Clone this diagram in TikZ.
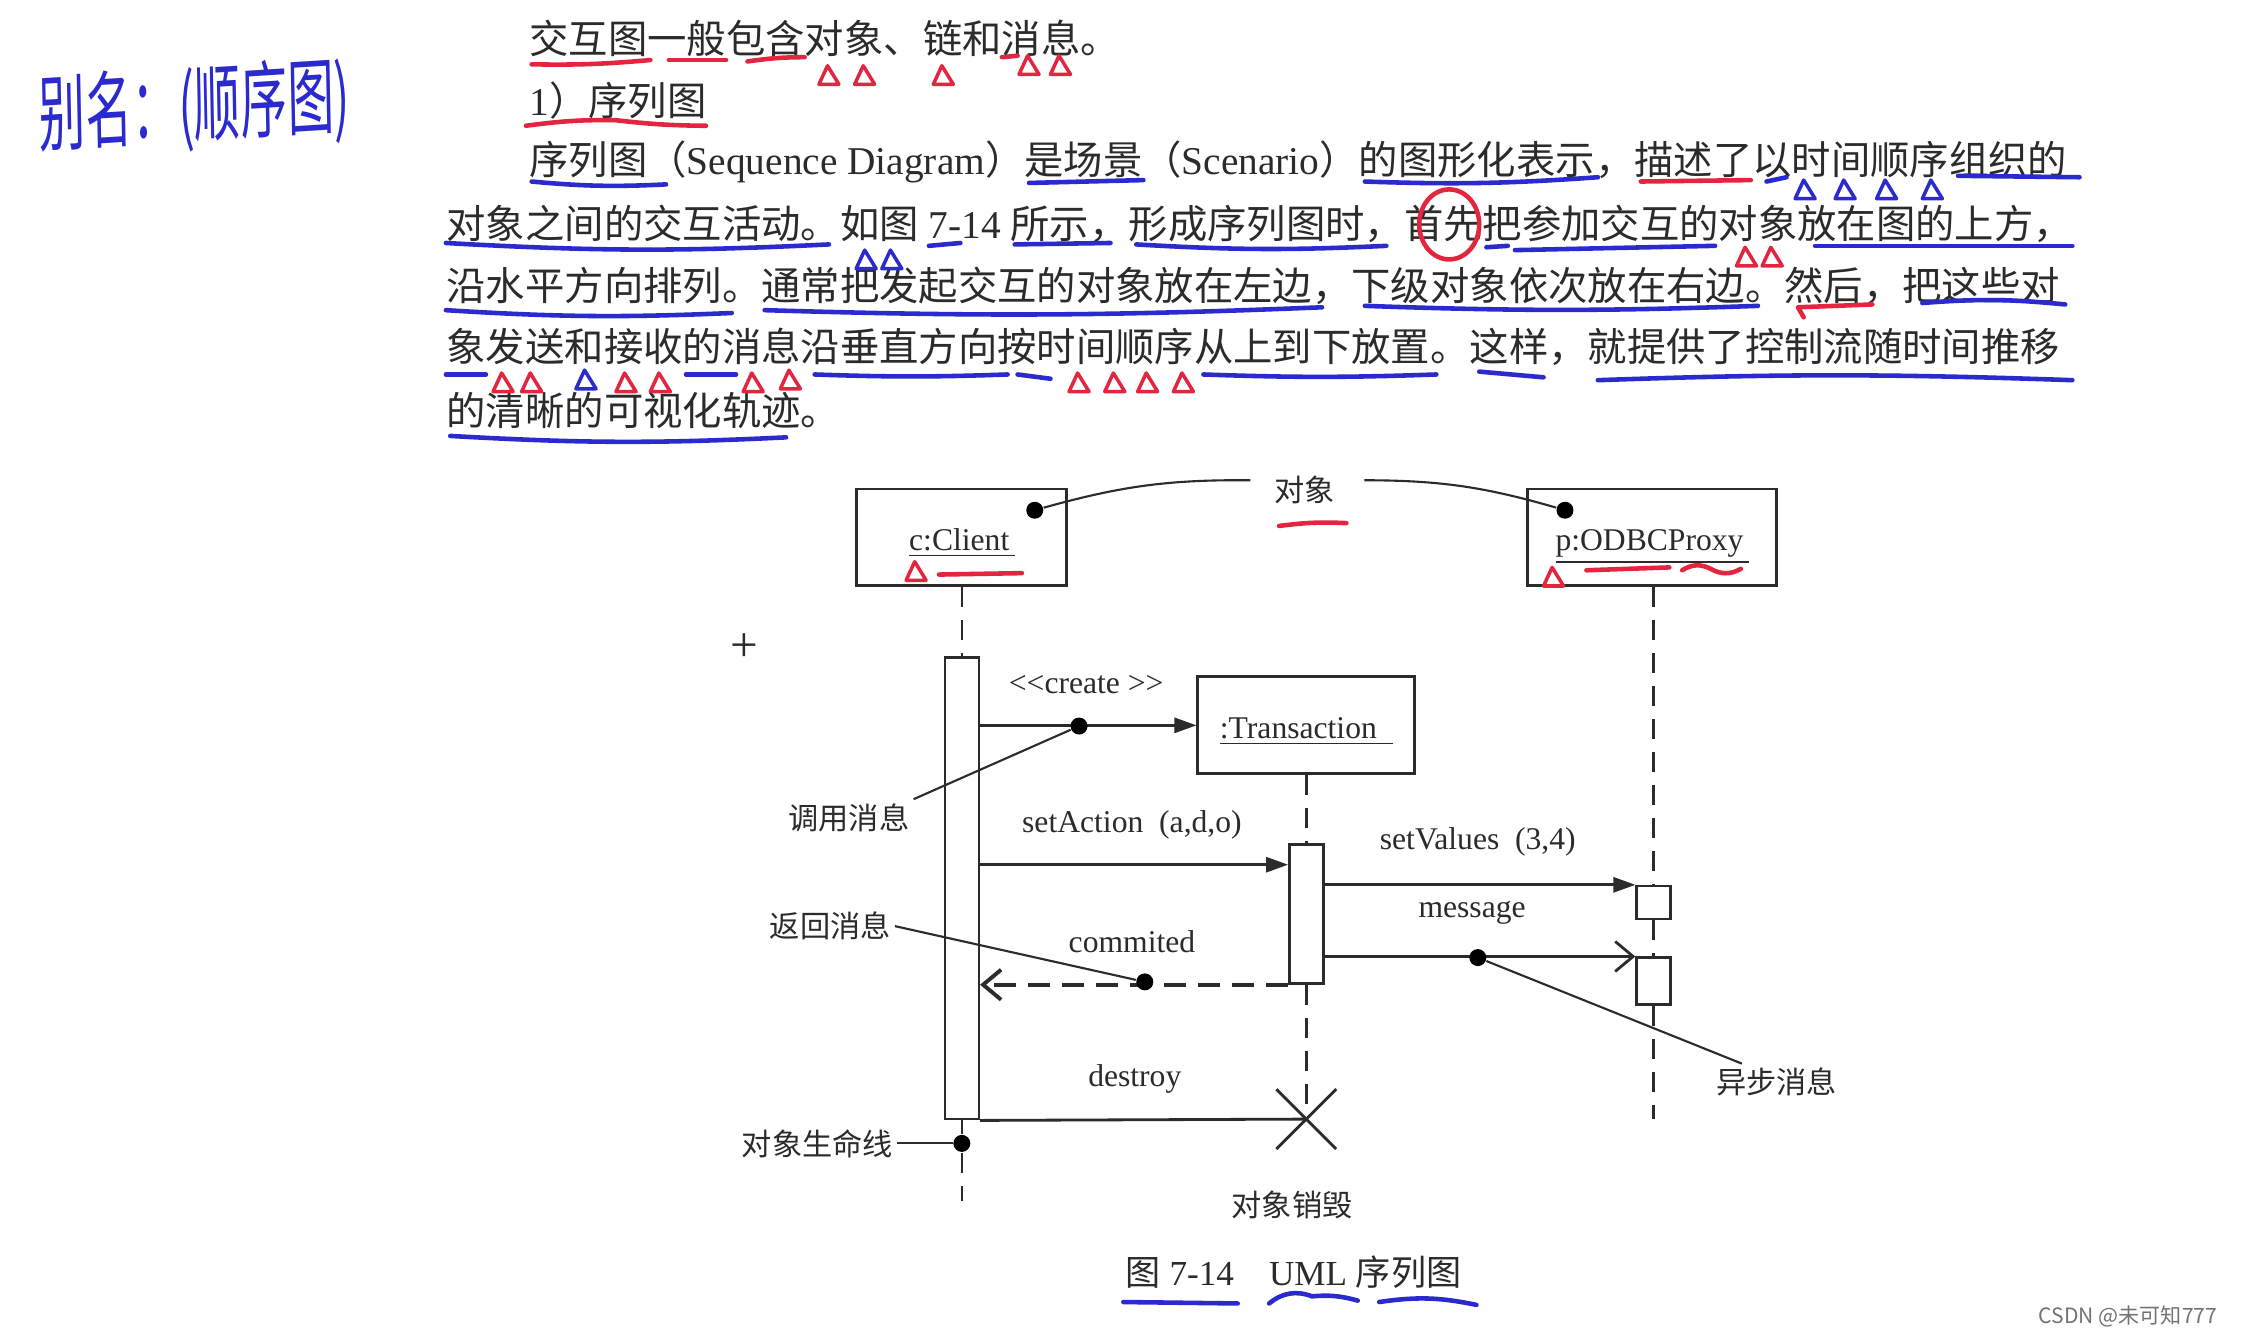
\documentclass[tikz,border=0pt]{standalone}
\usepackage{fontspec}
\setmainfont{Liberation Serif}
\newfontfamily\cjk{Noto Sans CJK SC}
\newcommand\zh[1]{{\cjk #1}}
\usepackage{xcolor}
\definecolor{inkblue}{HTML}{2A2ACF}
\definecolor{inkred}{HTML}{E3263F}
\definecolor{printgray}{HTML}{2B2B2B}
\usepackage{tikz}
\usetikzlibrary{positioning,arrows.meta,shapes.misc}
\newcommand\marktri[3]{\draw[#1, line width=1pt] (#2-7,#3+6) -- (#2-1,#3-7) -- (#2+7,#3+6) -- cycle;}

\begin{document}
\begin{tikzpicture}[
      x=0.01429cm, y=-0.01429cm,
      txt/.style={anchor=west, inner sep=0pt, text=printgray, font=\fontsize{11.2}{13}\selectfont},
      obj/.style={rectangle, draw=printgray, line width=0.8pt, minimum height=9.7mm, inner sep=1pt,
                  text height=3.2mm, text depth=0.6mm, text=printgray, font=\fontsize{9}{10}\selectfont},
      act/.style={rectangle, draw=printgray, line width=0.7pt, fill=white, minimum width=3.4mm, inner sep=0pt},
      dot/.style={circle, fill=black, inner sep=0pt, minimum size=1.7mm},
      lbl/.style={inner sep=1pt, text=printgray, font=\fontsize{9}{10}\selectfont},
      zlbl/.style={inner sep=1pt, text=printgray, font=\fontsize{8.6}{10}\cjk},
      life/.style={draw=printgray, line width=0.7pt, dash pattern=on 2mm off 1.3mm},
      call/.style={draw=printgray, line width=0.8pt, -{Triangle[length=2.2mm,width=1.5mm]}},
      async/.style={draw=printgray, line width=0.8pt, -{Straight Barb[length=1.8mm,width=3mm]}},
      reply/.style={draw=printgray, line width=1.1pt, dash pattern=on 2.2mm off 1.2mm,
                    -{Straight Barb[length=1.8mm,width=3mm]}},
      note/.style={draw=printgray, line width=0.6pt},
      hb/.style={draw=inkblue, line width=1.3pt, line cap=round, line join=round},
      hr/.style={draw=inkred, line width=1.3pt, line cap=round, line join=round},
    ]
    \fill[white] (0,0) rectangle (1568,935);
    \useasboundingbox (0,0) rectangle (1568,935);

    % text of the page
    \node[txt] (p1) at (370,27) {\zh{交互图一般包含对象、链和消息。}};
    \node[txt] (p2) at (370,70) {1\zh{）序列图}};
    \node[txt] (p3) at (370,113) {\zh{序列图（}Sequence Diagram\zh{）是场景（}Scenario\zh{）的图形化表示，描述了以时间顺序组织的}};
    \node[txt] (p4) at (312,157) {\zh{对象之间的交互活动。如图} 7-14 \zh{所示，形成序列图时，首先把参加交互的对象放在图的上方，}};
    \node[txt] (p5) at (312,200) {\zh{沿水平方向排列。通常把发起交互的对象放在左边，下级对象依次放在右边。然后，把这些对}};
    \node[txt] (p6) at (312,243) {\zh{象发送和接收的消息沿垂直方向按时间顺序从上到下放置。这样，就提供了控制流随时间推移}};
    \node[txt] (p7) at (312,287) {\zh{的清晰的可视化轨迹。}};
    \node[font=\fontsize{17}{17}\cjk, text=inkblue, xscale=0.78, yscale=1.4, rotate=2] (alias) at (136,76) {别名：(顺序图)};

    % objects
    \node[obj, minimum width=21mm] (client) at (673,376) {\underline{c:Client\,}};
    \node[obj, minimum width=24.9mm] (proxy) at (1156,376) {\underline{p:ODBCProxy\,}};
    \node[obj, minimum width=21.7mm] (trans) at (914,507.5) {\underline{:Transaction\ \ }};
    \node[zlbl] (objnote) at (913,343) {对象};
    \node[dot] (cdot) at (724,357) {};
    \node[dot] (pdot) at (1095,357) {};

    % activations
    \node[act, minimum height=46.2mm] (cact) at (673,621.5) {};
    \node[act, minimum height=13.9mm] (tact) at (914,639.5) {};
    \node[act, minimum height=3.3mm] (pact1) at (1157,631.5) {};
    \node[act, minimum height=4.7mm] (pact2) at (1157,686.5) {};
    \node[cross out, draw=printgray, line width=0.8pt, minimum size=5.7mm, inner sep=0pt] (kill) at (914,783) {};
    \node[dot] (ldot) at (673,800) {};
    \coordinate (cend) at (673,840);
    \coordinate (pend) at (1157,783);
    \coordinate (rowsa) at (0,605);

    % lifelines
    \draw[life] (client.south) -- (cact.north);
    \draw[life] (cact.south) -- (ldot) -- (cend);
    \draw[life] (trans.south) -- (tact.north);
    \draw[life] (tact.south) -- (kill.center);
    \draw[life] (proxy.south -| pact1.north) -- (pact1.north);
    \draw[life] (pact1.south) -- (pact2.north);
    \draw[life] (pact2.south) -- (pend);

    % messages
    \draw[call] (cact.east |- trans.west) -- (trans.west);
    \node[dot] (crdot) at (755,508) {};
    \node[lbl] (crlbl) at (760,479) {<{}<create >{}>};
    \draw[call] (cact.east |- rowsa) -- (tact.west |- rowsa);
    \node[lbl] (salbl) at (792,577) {setAction~~(a,d,o)};
    \draw[call] (tact.east |- pact1.north) -- (pact1.north west);
    \node[lbl] (svlbl) at (1034,589) {setValues~~(3,4)};
    \draw[async] (tact.east |- pact2.north) -- (pact2.north west);
    \node[lbl] (msglbl) at (1030,639) {message};
    \node[dot] (asdot) at (1034,670) {};
    \draw[reply] (tact.south west) -- (cact.east |- tact.south);
    \node[lbl] (cmlbl) at (792,659) {commited};
    \node[dot] (cmdot) at (801,687) {};
    \draw[draw=printgray, line width=0.8pt] (cact.south east) -- (kill.center);
    \node[lbl] (dslbl) at (794,755) {destroy};

    % notes
    \draw[note] ([xshift=-2mm,yshift=1mm]objnote.west) to[bend right=8] (cdot);
    \draw[note] ([xshift=2.5mm,yshift=1mm]objnote.east) to[bend left=8] (pdot);
    \node[zlbl] (callnote) at (594,572) {调用消息};
    \draw[note] (callnote.north east) -- (crdot);
    \node[zlbl] (retnote) at (581,648) {返回消息};
    \draw[note] (retnote.east) -- (cmdot);
    \node[zlbl] (asnote) at (1243,757) {异步消息};
    \draw[note] (asdot) -- ([xshift=3mm]asnote.north west);
    \node[zlbl] (lifenote) at (572,800) {对象生命线};
    \draw[note] (lifenote.east) -- (ldot);
    \node[zlbl] (killnote) at (904,843) {对象销毁};
    \node[font=\fontsize{10}{12}\selectfont, text=printgray] (cap) at (905,890) {\zh{图} 7-14\quad UML \zh{序列图}};
    \node[font=\fontsize{14}{14}\selectfont, text=printgray] (cursor) at (521,453) {+};
    \node[font=\fontsize{6}{7}\cjk, text=black!55, anchor=east] (mark) at (1560,921) {CSDN @未可知777};

    % pen marks
    \draw[hr] (372,45) to[bend right=3] (455,42);
    \draw[hr] (468,42) -- (508,42);
    \draw[hr] (523,43) to[bend left=4] (563,40);
    \marktri{hr}{580}{53} \marktri{hr}{605}{53} \marktri{hr}{660}{53}
    \draw[hr] (701,40) -- (712,39);
    \marktri{hr}{720}{46} \marktri{hr}{742}{46}
    \draw[hr] (368,88) to[bend left=4] (430,84) to[bend right=3] (494,88);
    \draw[hb] (372,127) to[bend right=4] (466,129);
    \draw[hb] (720,128) -- (800,126);
    \draw[hb] (955,127) to[bend right=3] (1118,124);
    \draw[hr] (1148,127) -- (1225,126);
    \draw[hb] (1236,127) -- (1250,124);
    \marktri{hb}{1263}{133} \marktri{hb}{1291}{133} \marktri{hb}{1320}{133} \marktri{hb}{1352}{133}
    \draw[hb] (1370,123) -- (1455,124);
    \draw[hb] (312,170) to[bend right=3] (580,171);
    \marktri{hb}{606}{182} \marktri{hb}{624}{182}
    \draw[hb] (650,172) -- (672,170);
    \draw[hb] (710,171) -- (777,170);
    \draw[hb] (795,171) to[bend right=3] (970,172);
    \draw[hr] (1014,157) ellipse [x radius=3mm, y radius=3.5mm];
    \draw[hb] (1040,173) -- (1055,172);
    \draw[hb] (1060,175) -- (1200,172);
    \marktri{hr}{1222}{180} \marktri{hr}{1240}{180}
    \draw[hb] (1270,172) -- (1450,172);
    \draw[hb] (312,217) to[bend right=3] (512,219);
    \draw[hb] (535,217) to[bend right=2] (925,215);
    \draw[hb] (955,214) to[bend right=2] (1230,214);
    \draw[hr] (1262,222) -- (1258,215) -- (1310,213);
    \draw[hb] (1345,212) to[bend left=5] (1445,213);
    \draw[hb] (312,262) -- (340,262);
    \marktri{hr}{352}{268} \marktri{hr}{372}{268}
    \marktri{hb}{410}{266}
    \marktri{hr}{438}{268} \marktri{hr}{462}{268}
    \draw[hb] (480,262) -- (515,262);
    \marktri{hr}{527}{268} \marktri{hr}{553}{266}
    \draw[hb] (570,262) to[bend right=2] (705,262);
    \draw[hb] (712,262) -- (735,265);
    \marktri{hr}{755}{268} \marktri{hr}{780}{268} \marktri{hr}{803}{268} \marktri{hr}{828}{268}
    \draw[hb] (842,262) to[bend right=2] (1005,262);
    \draw[hb] (1035,260) -- (1080,264);
    \draw[hb] (1118,266) to[bend left=2] (1450,266);
    \draw[hb] (315,305) to[bend right=3] (550,306);
    \draw[hr] (895,368) to[bend left=5] (942,366);
    \marktri{hr}{641}{400}
    \draw[hr] (657,402) -- (715,401);
    \marktri{hr}{1087}{404}
    \draw[hr] (1110,399) -- (1168,397);
    \draw[hr] (1177,399) to[bend left=30] (1197,398) to[bend right=30] (1218,398);
    \draw[hb] (786,911) -- (866,912);
    \draw[hb] (888,912) to[bend left=30] (918,907) to[bend left=10] (950,910);
    \draw[hb] (965,911) to[bend left=10] (1033,913);
  \end{tikzpicture}
\end{document}
